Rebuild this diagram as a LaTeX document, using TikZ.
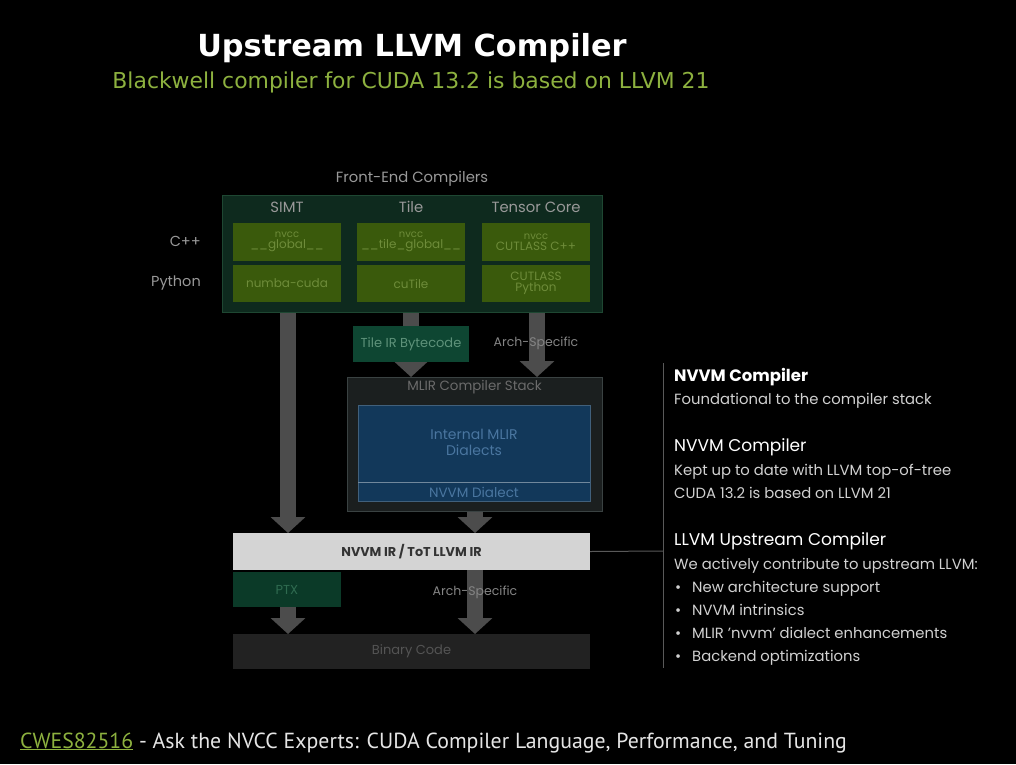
\documentclass[tikz,border=0pt]{standalone}
\usepackage{fontspec}
\setmainfont{Poppins}
\newfontfamily\ptsans{PT Sans}
\newfontfamily\dvsans{DejaVu Sans}
\usetikzlibrary{arrows.meta,backgrounds}
\pgfdeclarelayer{bottom}
\pgfsetlayers{bottom,background,main}
\definecolor{fegreen}{HTML}{0E2A1E}
\definecolor{feborder}{HTML}{1E4732}
\definecolor{olive}{HTML}{3A5A0C}
\definecolor{olivetxt}{HTML}{6E8C3A}
\definecolor{teal}{HTML}{0E4632}
\definecolor{tealtxt}{HTML}{5E927A}
\definecolor{mlirfill}{HTML}{1B1F1F}
\definecolor{mlirborder}{HTML}{3A4242}
\definecolor{bluefill}{HTML}{12385A}
\definecolor{bluetxt}{HTML}{4A76A0}
\definecolor{irfill}{HTML}{D4D4D4}
\definecolor{ptxfill}{HTML}{0B3A28}
\definecolor{ptxtxt}{HTML}{2F6B50}
\definecolor{binfill}{HTML}{222222}
\definecolor{arrowgray}{HTML}{4C4C4C}
\definecolor{nvgreen}{HTML}{8DB13F}
\definecolor{labgray}{HTML}{999999}
\begin{document}
\begin{tikzpicture}[x=1pt,y=-1pt,
  bx/.style 2 args={minimum width=#1pt,minimum height=#2pt,inner sep=0pt,outer sep=0pt,align=center},
  olivebox/.style={bx={108}{38},fill=olive,text=olivetxt,font=\fontsize{12}{13}\selectfont},
  colhead/.style={text=labgray,font=\fontsize{14.8}{17}\selectfont},
  rowlab/.style={text=labgray,font=\fontsize{14.5}{17}\selectfont,anchor=east,inner sep=0pt},
  diag/.style={font=\fontsize{13}{15}\selectfont},
  shaft/.style={draw=arrowgray,line width=16pt},
  bigarrow/.style={shaft,-{Triangle[width=34pt,length=16pt]}},
  archlab/.style={text=white!52!black,font=\fontsize{12.5}{15}\selectfont},
  rhead/.style={anchor=base west,inner sep=0pt,text=white,font=\fontsize{17}{20}\selectfont},
  rbody/.style={anchor=base west,inner sep=0pt,text=white!82!black,font=\fontsize{14.8}{17}\selectfont},
  thinline/.style={draw=white!35!black,line width=1pt}
]
\begin{pgfonlayer}{bottom}
\fill[black] (0,0) rectangle (1016,764);
\end{pgfonlayer}

% Titles
\node[anchor=base,inner sep=0pt,text=white,font=\dvsans\bfseries\fontsize{30.4}{36}\selectfont] (title) at (412,56) {Upstream LLVM Compiler};
\node[anchor=base,inner sep=0pt,text=nvgreen,font=\dvsans\fontsize{21.9}{26}\selectfont] (subtitle) at (411,88) {Blackwell compiler for CUDA 13.2 is based on LLVM 21};
\node[anchor=base west,inner sep=0pt,font=\ptsans\fontsize{21.8}{26}\selectfont] (footer) at (20,748)
  {\textcolor{nvgreen}{\underline{CWES82516}}~\textcolor{white!90!black}{- Ask the NVCC Experts: CUDA Compiler Language, Performance, and Tuning}};

% Front-end block
\node[text=labgray,font=\fontsize{14.8}{17}\selectfont] (felab) at (412,179) {Front-End Compilers};
\node[bx={380}{117},fill=fegreen,draw=feborder,line width=1pt] (fe) at (412,253.5) {};
\node[colhead] (hsimt) at (287,207) {SIMT};
\node[colhead] (htile) at (411,207) {Tile};
\node[colhead] (htc) at (536,207) {Tensor Core};
\node[rowlab] (lcpp) at (201,241) {C++};
\node[rowlab] (lpy) at (201,283) {Python};

\node[olivebox] (b11) at (287,242) {{\fontsize{10}{10}\selectfont nvcc}\\[-2pt]\_\_global\_\_};
\node[olivebox] (b12) at (411,242) {{\fontsize{10}{10}\selectfont nvcc}\\[-2pt]\_\_tile\_global\_\_};
\node[olivebox] (b13) at (536,242) {{\fontsize{10}{10}\selectfont nvcc}\\[-2pt]CUTLASS C++};
\node[olivebox,minimum height=37pt] (b21) at (287,283.5) {numba-cuda};
\node[olivebox,minimum height=37pt] (b22) at (411,283.5) {cuTile};
\node[olivebox,minimum height=37pt] (b23) at (536,283.5) {CUTLASS\\[-2pt]Python};

% Tile IR Bytecode
\node[bx={116}{36},fill=teal,text=tealtxt,font=\fontsize{13}{15}\selectfont] (tir) at (411,344) {Tile IR Bytecode};

% MLIR stack
\node[bx={255}{134},fill=mlirfill,draw=mlirborder,line width=1pt] (mlir) at (474.5,444) {};
\node[text=white!42!black,font=\fontsize{13.4}{15}\selectfont] (mlirlab) at (474.5,387) {MLIR Compiler Stack};
\node[bx={232}{96},fill=bluefill,draw=bluefill!80!white,line width=0.6pt] (dial) at (474,453) {};
\draw[draw=bluefill!60!white,line width=0.8pt] (dial.west |- 0,482) coordinate (sepw) -- (dial.east |- 0,482) coordinate (sepe);
\node[text=bluetxt,align=center,font=\fontsize{14}{16}\selectfont] (dtxt) at (474,442) {Internal MLIR\\Dialects};
\node[text=bluetxt,font=\fontsize{13.5}{15}\selectfont] (nvdial) at (474,492) {NVVM Dialect};

% IR, PTX, Binary
\node[bx={357}{37},fill=irfill,text=black!80,font=\bfseries\fontsize{12.8}{15}\selectfont] (ir) at (411.5,551.5) {NVVM IR / ToT LLVM IR};
\node[bx={108}{35},fill=ptxfill,text=ptxtxt,diag] (ptx) at (287,589.5) {PTX};
\node[bx={357}{35},fill=binfill,text=white!33!black,diag] (bin) at (411.5,651.5) {Binary Code};

% Arrows (behind boxes)
\coordinate (xsimt) at (288,0);
\coordinate (xtile) at (411,0);
\coordinate (xtc) at (537,0);
\coordinate (xmlir) at (475,0);
\begin{pgfonlayer}{background}
\draw[bigarrow] (fe.south -| xsimt) -- (ir.north -| xsimt);
\draw[shaft] (fe.south -| xtile) -- (tir.north -| xtile);
\draw[bigarrow] (tir.south -| xtile) -- (mlir.north -| xtile);
\draw[bigarrow] (fe.south -| xtc) -- (mlir.north -| xtc);
\draw[bigarrow] (mlir.south -| xmlir) -- (ir.north -| xmlir);
\draw[bigarrow] (ptx.south -| xsimt) -- (bin.north -| xsimt);
\draw[bigarrow] (ir.south -| xmlir) -- (bin.north -| xmlir);
\end{pgfonlayer}
\node[archlab] (arch1) at (536,343) {Arch-Specific};
\node[archlab] (arch2) at (475,592) {Arch-Specific};

% Right panel
\coordinate (vtop) at (663,363);
\coordinate (vbot) at (663,668);
\coordinate (vmid) at (663,551);
\draw[thinline] (vtop) -- (vbot);
\draw[thinline] (ir.east) -- (vmid);

\node[rhead,font=\bfseries\fontsize{16.5}{19}\selectfont] (r1) at (674,381) {NVVM Compiler};
\node[rbody] (r2) at (674,404) {Foundational to the compiler stack};
\node[rhead] (r3) at (674,451) {NVVM Compiler};
\node[rbody] (r4) at (674,475) {Kept up to date with LLVM top-of-tree};
\node[rbody] (r5) at (674,498) {CUDA 13.2 is based on LLVM 21};
\node[rhead] (r6) at (674,545) {LLVM Upstream Compiler};
\node[rbody] (r7) at (674,569) {We actively contribute to upstream LLVM:};
\foreach \t/\y [count=\i] in {New architecture support/592, NVVM intrinsics/615, MLIR 'nvvm' dialect enhancements/638, Backend optimizations/661}{
  \node[rbody] (bul\i) at (675,\y) {•};
  \node[rbody] (bt\i) at (692,\y) {\t};
}
\end{tikzpicture}
\end{document}
